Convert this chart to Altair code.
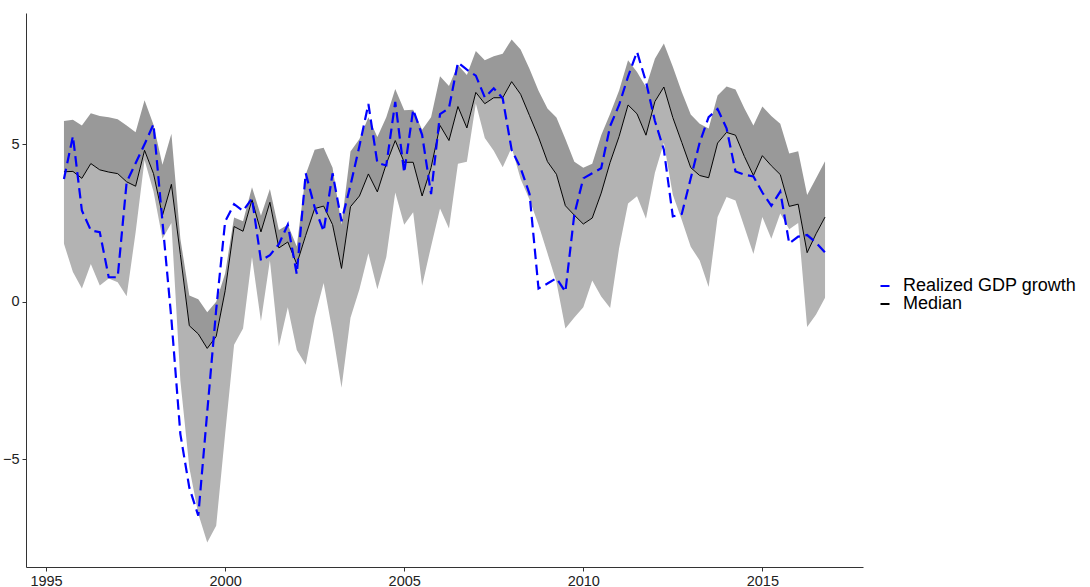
import altair as alt
import pandas as pd

# Quarterly observation dates (1995Q3 .. 2016Q4)
years = [1995.5 + 0.25 * k for k in range(86)]

median = [
    4.13, 4.14, 3.92, 4.39, 4.19, 4.12, 4.07, 3.81, 3.67, 4.81,
    4.07, 2.74, 3.73, 1.50, -0.76, -1.02, -1.48, -1.10, 0.35, 2.39,
    2.24, 3.24, 2.22, 3.16, 1.71, 1.90, 1.20, 2.11, 2.96, 3.04,
    2.45, 1.06, 3.02, 3.36, 4.06, 3.49, 4.38, 5.12, 4.43, 4.43,
    3.36, 4.26, 5.60, 5.12, 6.20, 5.52, 6.65, 6.29, 6.48, 6.48,
    6.99, 6.59, 5.91, 5.23, 4.45, 4.05, 3.05, 2.75, 2.47, 2.66,
    3.45, 4.43, 5.25, 6.25, 5.97, 5.29, 6.36, 6.82, 5.85, 5.06,
    4.26, 4.01, 3.94, 5.04, 5.38, 5.29, 4.61, 4.01, 4.64, 4.32,
    4.04, 3.03, 3.10, 1.56, 2.16, 2.69,
]

upper = [
    5.74, 5.78, 5.60, 5.99, 5.90, 5.86, 5.80, 5.60, 5.38, 6.40,
    5.62, 4.35, 5.34, 2.00, 0.20, 0.08, -0.33, 0.00, 0.90, 2.68,
    2.56, 3.64, 2.73, 3.58, 2.28, 2.45, 1.76, 4.04, 4.83, 4.89,
    4.26, 2.45, 4.77, 5.17, 5.86, 5.23, 5.86, 6.76, 6.08, 6.10,
    5.46, 5.86, 7.16, 6.85, 7.52, 7.20, 7.96, 7.67, 7.80, 7.88,
    8.33, 8.01, 7.39, 6.70, 6.14, 5.85, 5.17, 4.45, 4.26, 4.38,
    5.29, 5.97, 6.71, 7.67, 7.30, 6.82, 7.72, 8.20, 7.46, 6.66,
    5.95, 5.65, 5.50, 6.55, 6.84, 6.74, 6.14, 5.60, 6.20, 5.90,
    5.65, 4.71, 4.78, 3.39, 3.92, 4.46,
]

lower = [
    1.84, 0.95, 0.42, 1.20, 0.52, 0.74, 0.62, 0.18, 2.20, 4.50,
    3.50, 2.00, 2.50, -2.50, -5.26, -6.73, -7.64, -7.11, -4.20, -1.36,
    -0.85, 1.42, -0.62, 1.31, -1.42, -0.17, -1.53, -2.00, -0.50, 0.60,
    -0.96, -2.73, -0.51, 0.40, 1.54, 0.40, 1.42, 3.47, 2.45, 2.84,
    0.51, 1.76, 2.96, 2.33, 4.38, 4.45, 6.30, 5.20, 4.80, 4.27,
    4.90, 3.90, 3.24, 2.45, 1.54, 0.63, -0.85, -0.50, -0.17, 0.68,
    0.17, -0.20, 1.70, 3.12, 3.35, 2.64, 4.10, 5.05, 3.40, 2.60,
    1.75, 1.31, 0.47, 2.69, 3.33, 3.22, 2.37, 1.52, 2.69, 2.00,
    2.80, 2.30, 2.50, -0.80, -0.40, 0.13,
]

realized = [
    3.90, 5.26, 2.90, 2.27, 2.21, 0.78, 0.78, 3.80, 4.40, 5.00,
    5.64, 2.55, -0.55, -4.20, -5.90, -6.79, -3.50, -0.25, 2.55, 3.10,
    2.89, 3.28, 1.31, 1.48, 1.83, 2.45, 0.88, 4.08, 3.00, 2.24,
    4.08, 2.56, 3.70, 4.95, 6.28, 4.41, 4.33, 6.35, 4.10, 6.10,
    5.30, 3.42, 5.96, 6.15, 7.60, 7.37, 7.18, 6.49, 6.78, 6.46,
    4.82, 4.25, 3.42, 0.42, 0.58, 0.75, 0.32, 2.78, 3.92, 4.08,
    4.24, 5.58, 6.25, 7.15, 7.94, 6.99, 5.74, 4.83, 2.71, 2.79,
    3.92, 5.06, 5.86, 6.12, 5.51, 4.14, 4.04, 3.98, 3.47, 3.05,
    3.50, 1.85, 2.07, 2.12, 1.88, 1.57,
]

series_names = ["Realized GDP growth", "Median"]
series_colors = ["#0000FF", "#000000"]

bands = pd.DataFrame({"year": years, "lower": lower, "median": median, "upper": upper})
realized_df = pd.DataFrame({"year": years, "value": realized})
median_df = pd.DataFrame({"year": years, "value": median, "series": series_names[1]})

FONT = "Liberation Sans"

x_scale = alt.Scale(domain=[1994.44, 2017.81], nice=False, zero=False)
y_scale = alt.Scale(domain=[-8.42, 9.17], nice=False, zero=False)

x_axis = alt.Axis(values=[1995, 2000, 2005, 2010, 2015], format="d", title=None, grid=False,
                  labelFont=FONT, labelFontSize=14.5, labelColor="#222222", labelPadding=3,
                  tickSize=4, tickColor="#333333", domainColor="#333333", labelFlush=False)
y_axis = alt.Axis(values=[-5, 0, 5], title=None, grid=False,
                  labelFont=FONT, labelFontSize=14.5, labelColor="#222222", labelPadding=3,
                  tickSize=4, tickColor="#333333", domainColor="#333333")

base = alt.Chart(bands)

lower_band = base.mark_area(color="#B3B3B3", opacity=1).encode(
    x=alt.X("year:Q", scale=x_scale, axis=x_axis),
    y=alt.Y("lower:Q", scale=y_scale, axis=y_axis),
    y2="median:Q",
)

upper_band = base.mark_area(color="#999999", opacity=1).encode(
    x=alt.X("year:Q", scale=x_scale),
    y=alt.Y("median:Q", scale=y_scale),
    y2="upper:Q",
)

# The median layer carries the legend for both series (solid keys).
median_line = alt.Chart(median_df).mark_line(strokeWidth=1.0).encode(
    x=alt.X("year:Q", scale=x_scale),
    y=alt.Y("value:Q", scale=y_scale),
    color=alt.Color(
        "series:N",
        scale=alt.Scale(domain=series_names, range=series_colors),
        legend=alt.Legend(
            title=None, orient="none", legendX=850, legendY=264,
            symbolType="stroke", symbolSize=81, symbolStrokeWidth=2,
            labelFont=FONT, labelFontSize=18, labelColor="#000000", labelLimit=0,
            labelOffset=9, rowPadding=0, padding=0,
        ),
    ),
    order=alt.Order("year:Q"),
)

realized_line = alt.Chart(realized_df).mark_line(
    strokeWidth=2.2, strokeDash=[10.5, 5.5], color=series_colors[0]
).encode(
    x=alt.X("year:Q", scale=x_scale),
    y=alt.Y("value:Q", scale=y_scale),
    order=alt.Order("year:Q"),
)

chart = alt.layer(lower_band, upper_band, median_line, realized_line).properties(
    width=837,
    height=554,
    autosize=alt.AutoSizeParams(type="none"),
    padding={"left": 26, "top": 13, "right": 227, "bottom": 20},
    background="white",
).configure_view(stroke=None)

chart.save("out.html", embed_options={"renderer": "svg", "actions": False})
